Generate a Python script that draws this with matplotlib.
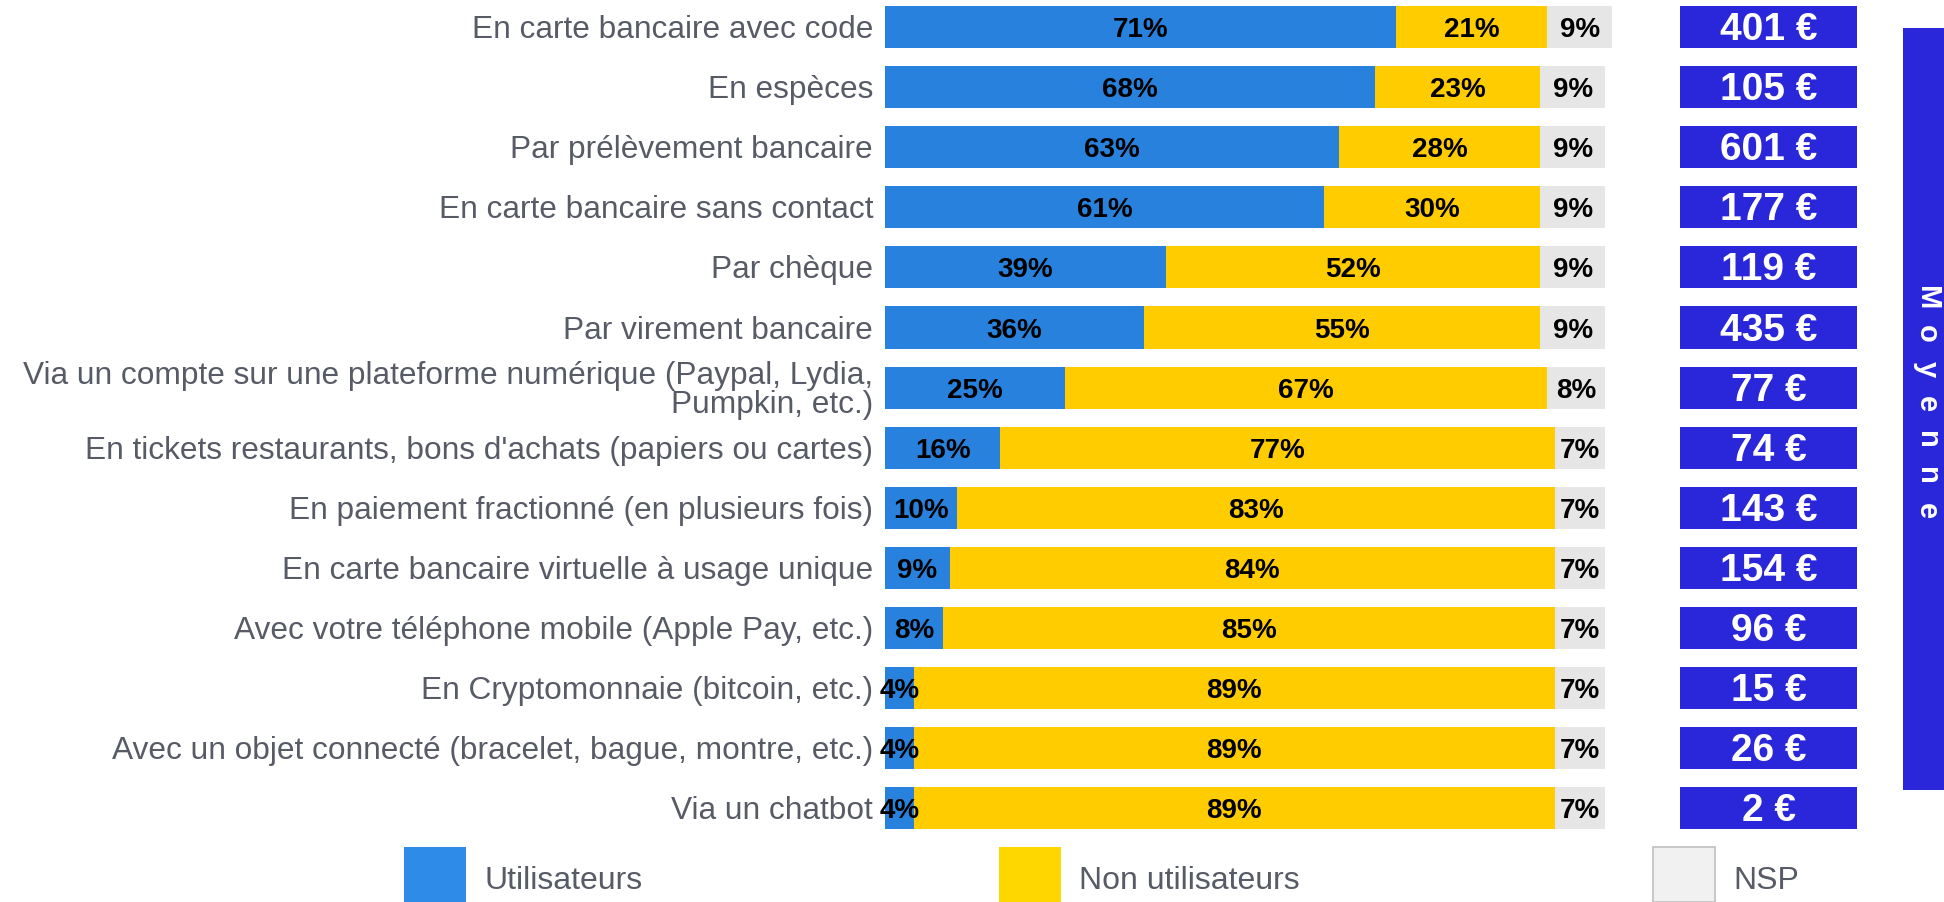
import matplotlib.pyplot as plt
from matplotlib.patches import Rectangle

plt.rcParams['font.family'] = ['Liberation Sans', 'DejaVu Sans']

labels = ['En carte bancaire avec code', 'En espèces', 'Par prélèvement bancaire',
          'En carte bancaire sans contact', 'Par chèque', 'Par virement bancaire',
          'Via un compte sur une plateforme numérique (Paypal, Lydia,\nPumpkin, etc.)',
          "En tickets restaurants, bons d'achats (papiers ou cartes)",
          'En paiement fractionné (en plusieurs fois)',
          'En carte bancaire virtuelle à usage unique',
          'Avec votre téléphone mobile (Apple Pay, etc.)',
          'En Cryptomonnaie (bitcoin, etc.)',
          'Avec un objet connecté (bracelet, bague, montre, etc.)',
          'Via un chatbot']
utilisateurs = [71, 68, 63, 61, 39, 36, 25, 16, 10, 9, 8, 4, 4, 4]
non_utilisateurs = [21, 23, 28, 30, 52, 55, 67, 77, 83, 84, 85, 89, 89, 89]
nsp = [9, 9, 9, 9, 9, 9, 8, 7, 7, 7, 7, 7, 7, 7]
moyenne = [401, 105, 601, 177, 119, 435, 77, 74, 143, 154, 96, 15, 26, 2]

blue = '#2781DD'
yellow = '#FFCC00'
grey = '#E6E6E6'
navy = '#2A26D9'
txt = '#575B66'

W, H = 1944, 902
fig = plt.figure(figsize=(W / 100, H / 100), dpi=100)

# row geometry in pixels
pitch = 60.1
top_px = 27 - 0.45 * pitch
bot_px = 27 + 13.55 * pitch
ax = fig.add_axes([885 / W, 1 - bot_px / H, 7.2 * 102 / W, (bot_px - top_px) / H])
ax.set_xlim(0, 102)
ax.set_ylim(13.55, -0.45)
ax.axis('off')

y = list(range(len(labels)))
dy = 0.05
left2 = [a for a in utilisateurs]
left3 = [a + b for a, b in zip(utilisateurs, non_utilisateurs)]
ax.barh(y, utilisateurs, height=0.7, color=blue)
ax.barh(y, non_utilisateurs, left=left2, height=0.7, color=yellow)
ax.barh(y, nsp, left=left3, height=0.7, color=grey)

for i in y:
    ax.text(utilisateurs[i] / 2, i + dy, f'{utilisateurs[i]}%', ha='center', va='center',
            fontsize=20, fontweight='bold', color='black')
    ax.text(left2[i] + non_utilisateurs[i] / 2, i + dy, f'{non_utilisateurs[i]}%', ha='center',
            va='center', fontsize=20, fontweight='bold', color='black')
    ax.text(left3[i] + nsp[i] / 2, i + dy, f'{nsp[i]}%', ha='center', va='center',
            fontsize=20, fontweight='bold', color='black')
    ax.text(-12 / 7.2, i + dy, labels[i], ha='right', va='center', fontsize=22.8,
            color=txt, linespacing=0.95)

# average amount boxes
ax2 = fig.add_axes([1680 / W, 1 - bot_px / H, 177 / W, (bot_px - top_px) / H])
ax2.set_xlim(0, 1)
ax2.set_ylim(13.55, -0.45)
ax2.axis('off')
ax2.barh(y, [1] * len(y), height=0.7, color=navy)
for i in y:
    ax2.text(0.5, i + dy, f'{moyenne[i]} €', ha='center', va='center', fontsize=28,
             fontweight='bold', color='white')

# side "Moyenne" banner
fig.add_artist(Rectangle((1903 / W, 1 - 790 / H), 60 / W, 762 / H,
                         transform=fig.transFigure, color=navy, lw=0))
for k, ch in enumerate('Moyenne'):
    fig.text(1927 / W, 1 - (298 + k * 35.5) / H, ch, rotation=-90, ha='center',
             va='center', fontsize=21, fontweight='bold', color='white')

# legend
leg = [('Utilisateurs', '#2E8BE8', 404, 'none'), ('Non utilisateurs', '#FFD700', 999, 'none'),
       ('NSP', '#F1F1F1', 1653, '#C0C0C0')]
for name, col, x0, ec in leg:
    fig.add_artist(Rectangle((x0 / W, 0), 62 / W, 55 / H, transform=fig.transFigure,
                             facecolor=col, edgecolor=ec, lw=1.2))
    fig.text((x0 + 80) / W, 1 - 881 / H, name, ha='left', va='center', fontsize=23,
             color=txt)

fig.savefig('out.png', dpi=100)
